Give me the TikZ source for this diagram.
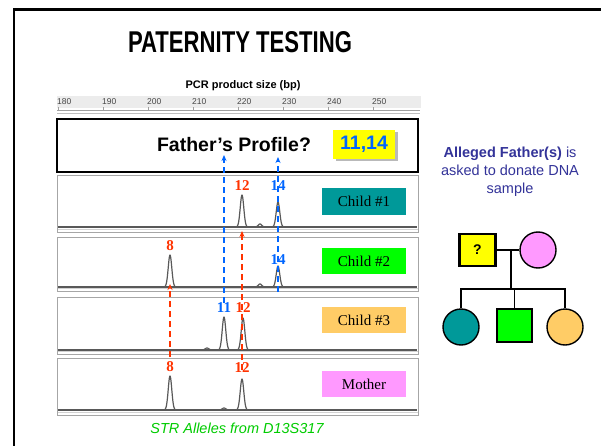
\documentclass[tikz,border=0pt]{standalone}
\usepackage{fontspec}
\usepackage{graphicx}
\setmainfont{Liberation Serif}
\setsansfont{Liberation Sans}
\newfontfamily\arialf{Liberation Sans}
\newfontfamily\romanf{Liberation Serif}
\usetikzlibrary{arrows.meta}
\definecolor{allred}{RGB}{255,51,0}
\definecolor{allblue}{RGB}{0,102,255}
\definecolor{noteblue}{RGB}{51,51,153}
\definecolor{tealfill}{RGB}{0,153,153}
\definecolor{limefill}{RGB}{0,255,0}
\definecolor{apricot}{RGB}{255,204,102}
\definecolor{orchidfill}{RGB}{255,153,255}
\definecolor{strgreen}{RGB}{0,204,0}
\definecolor{fatheryellow}{RGB}{255,255,0}

% one electropherogram peak: centre x, baseline y, height
\newcommand\strpeak[3]{%
  \draw[trace] plot[domain=-8:8,samples=49,smooth] ({#1+\x},{#2-#3*exp(-(\x/2.5)^2)});}

\begin{document}
\begin{tikzpicture}[x=1pt,y=-1pt,
  panel/.style={draw=gray!70,line width=1pt},
  trace/.style={draw=gray!70!black,line width=1.2pt,line join=round},
  allele/.style={font=\romanf\bfseries\fontsize{15}{15}\selectfont,inner sep=0pt},
  tag/.style={minimum width=84pt,minimum height=26pt,inner sep=0pt,
              font=\romanf\fontsize{15}{16}\selectfont},
  ticklabel/.style={font=\arialf\fontsize{8.5}{9}\selectfont,text=gray!55!black,inner sep=0pt,anchor=west},
  bluearrow/.style={allblue,line width=1.3pt,dash pattern=on 6pt off 4pt,
                    -{Stealth[length=6pt,width=5pt]}},
  redarrow/.style={allred,line width=1.3pt,dash pattern=on 6pt off 4pt,
                   -{Stealth[length=6pt,width=5pt]}},
  pedline/.style={draw=black,line width=1.4pt},
  pednode/.style={draw=black,line width=1.4pt,inner sep=0pt}]

\useasboundingbox (0,0) rectangle (601,446);
\fill[white] (0,0) rectangle (601,446);

% slide frame
\draw[black,line width=2.2pt] (14,446) -- (14,9.5) -- (601,9.5);

% title
\node (title) at (240,42.5) {\resizebox{224pt}{21pt}{\arialf\bfseries PATERNITY TESTING}};

% size axis
\node[font=\arialf\bfseries\fontsize{11}{12}\selectfont,inner sep=0pt] (axistitle) at (243,86) {PCR product size (bp)};
\fill[gray!15] (57,96) rectangle (421,108);
\draw[gray!75,line width=0.9pt] (57,110.5) -- (420,110.5);
\draw[gray!50,line width=0.9pt] (57,113.5) -- (420,113.5);
\foreach \v [count=\i from 0] in {180,190,200,210,220,230,240,250} {
  \node[ticklabel] (tick\v) at ({57+45*\i},102) {\v};
  \draw[gray!75,line width=0.8pt] ({58+45*\i},110.5) -- ++(0,-3);
}

% father's box
\draw[black,line width=2pt] (57,119) rectangle (418,172);
\node[font=\arialf\bfseries\fontsize{19.5}{20}\selectfont,inner sep=0pt] (fprofile) at (234,145) {Father’s Profile?};
\fill[gray!55] (335.5,132.5) rectangle (397.5,161.5);
\node[fill=fatheryellow,minimum width=62pt,minimum height=29pt,inner sep=0pt,
      font=\arialf\bfseries\fontsize{19.5}{20}\selectfont,text=allblue] (falleles) at (364,144.5) {11,14};

% sample panels: top, bottom, baseline
\foreach \t/\b/\s in {176/232/227, 237/291/287, 297/354/350, 358/415/410} {
  \draw[panel] (57,\t) rectangle (418.5,\b);
  \draw[gray!35,line width=1.2pt] (58,{\b-2.2}) -- (418,{\b-2.2});
  \draw[trace] (58,\s) -- (417,\s);
}

% child #1
\strpeak{242}{227}{32}
\strpeak{278}{227}{25}
\strpeak{260}{227}{3}
% child #2
\strpeak{170}{287}{32}
\strpeak{278}{287}{21}
\strpeak{260}{287}{3}
% child #3
\strpeak{224}{350}{33}
\strpeak{243}{350}{32}
\strpeak{207}{350}{2}
% mother
\strpeak{170}{410}{34}
\strpeak{242}{410}{31}
\strpeak{224}{410}{2}

% allele calls
\node[allele,text=allred]  (c1a) at (242,186) {12};
\node[allele,text=allblue] (c1b) at (278,186) {14};
\node[allele,text=allred]  (c2a) at (170,246) {8};
\node[allele,text=allblue] (c2b) at (278,260) {14};
\node[allele,text=allblue] (c3a) at (224,308) {11};
\node[allele,text=allred]  (c3b) at (243,308) {12};
\node[allele,text=allred]  (ma)  at (170,367) {8};
\node[allele,text=allred]  (mb)  at (242,368) {12};

% sample tags
\node[tag,fill=tealfill]   (tag1) at (364,201.5) {Child \#1};
\node[tag,fill=limefill]   (tag2) at (364,261)   {Child \#2};
\node[tag,fill=apricot]    (tag3) at (364,320)   {Child \#3};
\node[tag,fill=orchidfill] (tag4) at (364,384)   {Mother};

% inheritance arrows
\coordinate (pat11) at (224,155);
\coordinate (pat14) at (278,157);
\coordinate (c2base14) at (278,292);
\coordinate (c1base12) at (242,231);
\coordinate (c2base8) at (170,284);
\coordinate (mtop12) at (242,370);
\coordinate (mtop8) at (170,357);
\draw[bluearrow] (c3a.north) -- (pat11);
\draw[bluearrow] (c2base14) -- (pat14);
\draw[redarrow] (mtop12) -- (c1base12);
\draw[redarrow] (mtop8) -- (c2base8);

% note
\node[align=center,text=noteblue,font=\arialf\fontsize{14.5}{18}\selectfont,inner sep=0pt] (note) at (510,172)
  {\textbf{Alleged Father(s)} is\\asked to donate DNA\\sample};

% pedigree
\node[pednode,line width=2.4pt,fill=fatheryellow,minimum width=36pt,minimum height=32pt,
      font=\arialf\bfseries\fontsize{14}{15}\selectfont] (pf) at (477.5,250) {?};
\node[pednode,circle,fill=orchidfill,minimum size=36pt] (pm) at (538,250) {};
\node[pednode,circle,fill=tealfill,minimum size=36pt] (k1) at (461,327) {};
\node[pednode,fill=limefill,minimum width=35pt,minimum height=33pt] (k2) at (514.5,325.5) {};
\node[pednode,circle,fill=apricot,minimum size=36pt] (k3) at (565,327) {};
\coordinate (mate) at (511,250);
\coordinate (sib) at (511,289);
\coordinate (sibL) at (461,289);
\coordinate (sibR) at (565,289);
\draw[pedline] (pf.east) -- (pm.west);
\draw[pedline] (mate) -- (sib);
\draw[pedline] (k1.north) -- (sibL) -- (sibR) -- (k3.north);
\draw[pedline] (k2.north) -- (k2.north |- sibL);

% caption
\node[font=\arialf\itshape\fontsize{14.5}{16}\selectfont,text=strgreen,inner sep=0pt] (caption) at (237,428) {STR Alleles from D13S317};
\end{tikzpicture}
\end{document}
